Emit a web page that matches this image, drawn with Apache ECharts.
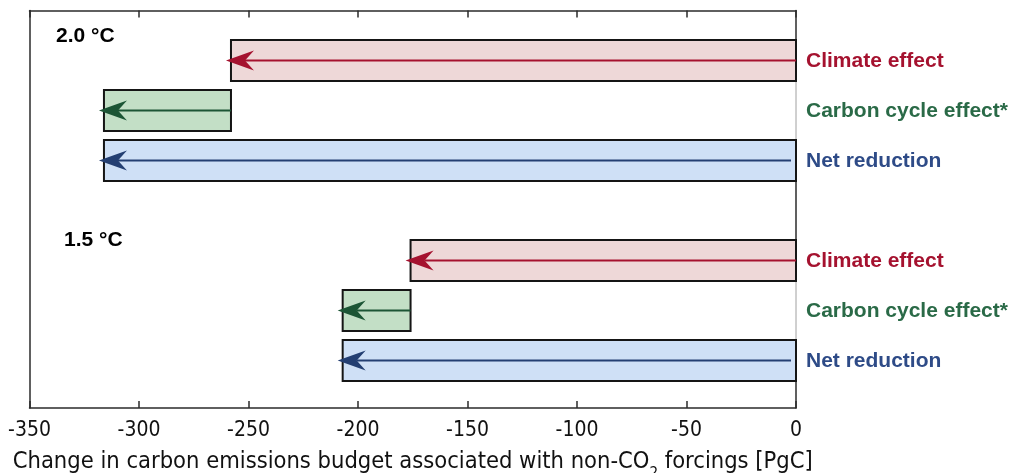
<!DOCTYPE html>
<html>
<head>
<meta charset="utf-8">
<script src="https://cdn.jsdelivr.net/npm/echarts@6/dist/echarts.min.js"></script>
<style>
  html, body { margin: 0; padding: 0; background: #fff; }
  #chart { width: 1011px; height: 473px; }
</style>
</head>
<body>
<div id="chart"></div>
<script>
// Scenario labels and effect names
const scenarios = ['2.0 °C', '1.5 °C'];
const effectNames = ['Climate effect', 'Carbon cycle effect*', 'Net reduction'];

// Budget changes per scenario [PgC]
const climateEffect = [-258, -176];
const carbonCycleEffect = [-58, -31];
const netReduction = [-316, -207];

// Axis range and ticks
const xMin = -350, xMax = 0, xStep = 50;

// Row slots (inverted axis, 0 at top)
const scenarioRows = [[1, 2, 3], [5, 6, 7]];
const rowMax = 7.95;

const kinds = [
  { fill: '#eed8d8', arrow: '#a5122f', text: '#a5122f' },
  { fill: '#c3dfc6', arrow: '#1c5535', text: '#2a6a47' },
  { fill: '#cfe0f6', arrow: '#243f72', text: '#2e4b87' }
];

// [start, end, row, kind]
const barData = [];
scenarios.forEach((s, i) => {
  const rows = scenarioRows[i];
  barData.push([0, climateEffect[i], rows[0], 0]);
  barData.push([climateEffect[i], climateEffect[i] + carbonCycleEffect[i], rows[1], 1]);
  barData.push([0, netReduction[i], rows[2], 2]);
});

const FONT = '"Liberation Sans", Arial, Helvetica, sans-serif';
const NARROW = '"Liberation Sans Narrow", "Arial Narrow", "DejaVu Sans Condensed", sans-serif';

function renderBar(params, api) {
  const x0 = api.value(0), x1 = api.value(1), row = api.value(2), k = api.value(3);
  const p0 = api.coord([x0, row]);
  const p1 = api.coord([x1, row]);
  const h = api.size([0, 0.82])[1];
  const cy = p0[1];
  const left = Math.min(p0[0], p1[0]), right = Math.max(p0[0], p1[0]);
  const c = kinds[k];
  const tipX = left - 5;
  const startX = k === 2 ? right - 5 : right;
  const headLen = 28, headHalf = 10, notch = 19;
  const zx = api.coord([0, row])[0];
  const children = [];
  if (k === 1) {
    // lighter zero line between the neighbouring bars
    children.push({
      type: 'line',
      shape: { x1: zx, y1: cy - h / 2 - 8, x2: zx, y2: cy + h / 2 + 8 },
      style: { stroke: '#ffffff', lineWidth: 3 }
    });
    children.push({
      type: 'line',
      shape: { x1: zx, y1: cy - h / 2 - 8, x2: zx, y2: cy + h / 2 + 8 },
      style: { stroke: '#a0a0a0', lineWidth: 1 }
    });
  }
  children.push(
    {
      type: 'rect',
      shape: { x: left, y: cy - h / 2, width: right - left, height: h },
      style: { fill: c.fill, stroke: '#151515', lineWidth: 2 }
    },
    {
      type: 'line',
      shape: { x1: startX, y1: cy, x2: tipX + notch, y2: cy },
      style: { stroke: c.arrow, lineWidth: 2 }
    },
    {
      type: 'polygon',
      shape: { points: [[tipX, cy], [tipX + headLen, cy - headHalf], [tipX + notch, cy], [tipX + headLen, cy + headHalf]] },
      style: { fill: c.arrow }
    },
    {
      type: 'text',
      style: {
        text: effectNames[k], x: zx + 10, y: cy + 1,
        fill: c.text, font: 'bold 21px ' + FONT, textVerticalAlign: 'middle', textAlign: 'left'
      }
    }
  );
  return { type: 'group', children };
}

const chart = echarts.init(document.getElementById('chart'), null, { renderer: 'canvas' });
chart.setOption({
  animation: false,
  grid: { left: 29.5, right: 215, top: 10.5, bottom: 65, outerBoundsMode: 'none', containLabel: false },
  xAxis: [
    {
      type: 'value', min: xMin, max: xMax, interval: xStep, position: 'bottom',
      axisLine: { show: true, onZero: false, lineStyle: { color: '#2b2b2b', width: 1.5 } },
      axisTick: { show: true, inside: true, length: 7, lineStyle: { color: '#2b2b2b', width: 1.5 } },
      axisLabel: { color: '#111', fontFamily: NARROW, fontSize: 21, margin: 12 },
      splitLine: { show: false },
      name: '{t|Change in carbon emissions budget associated with non-CO}{s|2}{t| forcings [PgC]}',
      nameLocation: 'middle', nameGap: 42,
      nameTextStyle: {
        rich: {
          t: { fontFamily: NARROW, fontSize: 23.5, color: '#111' },
          s: { fontFamily: NARROW, fontSize: 15, color: '#111', verticalAlign: 'bottom', padding: [0, 0, -8, 0] }
        }
      }
    },
    {
      type: 'value', min: xMin, max: xMax, interval: xStep, position: 'top',
      axisLine: { show: true, onZero: false, lineStyle: { color: '#2b2b2b', width: 1.5 } },
      axisTick: { show: true, inside: true, length: 7, lineStyle: { color: '#2b2b2b', width: 1.5 } },
      axisLabel: { show: false }, splitLine: { show: false }
    }
  ],
  yAxis: [
    {
      type: 'value', min: 0, max: rowMax, inverse: true, position: 'left',
      axisLine: { show: true, onZero: false, lineStyle: { color: '#2b2b2b', width: 1.5 } },
      axisTick: { show: false }, axisLabel: { show: false }, splitLine: { show: false }
    },
    {
      type: 'value', min: 0, max: rowMax, inverse: true, position: 'right',
      axisLine: { show: true, onZero: false, lineStyle: { color: '#2b2b2b', width: 1.5 } },
      axisTick: { show: false }, axisLabel: { show: false }, splitLine: { show: false }
    }
  ],
  graphic: [
    { type: 'text', left: 56, top: 26, style: { text: scenarios[0], font: 'bold 21px ' + FONT, fill: '#000' } },
    { type: 'text', left: 64, top: 230, style: { text: scenarios[1], font: 'bold 21px ' + FONT, fill: '#000' } }
  ],
  series: [
    {
      type: 'custom', xAxisIndex: 0, yAxisIndex: 0, clip: false,
      renderItem: renderBar, data: barData,
      encode: { x: [0, 1], y: 2 }
    }
  ]
});
</script>
</body>
</html>
